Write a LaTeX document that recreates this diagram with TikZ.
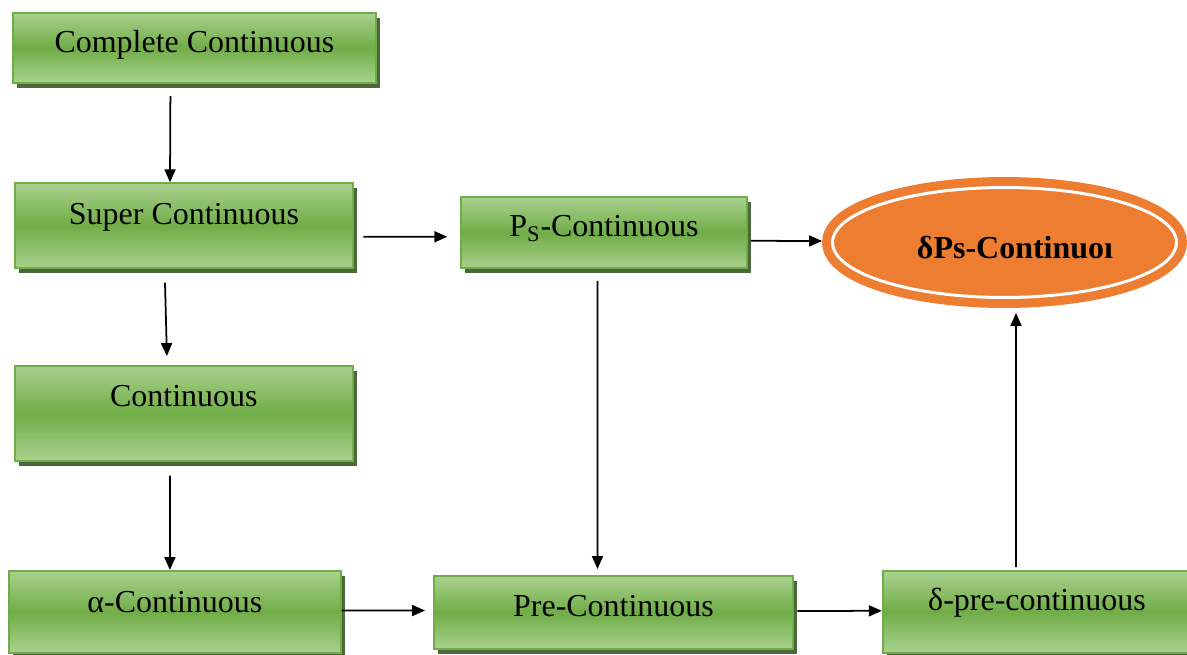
\documentclass[tikz,border=0pt]{standalone}
\usepackage{fontspec}
\setmainfont{Liberation Serif}
\usepackage{tikz}
\usetikzlibrary{arrows.meta,shadows,shapes.geometric}

\definecolor{boxlight}{RGB}{169,209,142}
\definecolor{boxmid}{RGB}{112,173,71}
\definecolor{boxline}{RGB}{112,173,71}
\definecolor{boxshadow}{RGB}{56,87,35}
\definecolor{goalfill}{RGB}{237,125,49}

\begin{document}
\begin{tikzpicture}[x=0.02cm, y=-0.02cm,
  box/.style={draw=boxline, line width=1.1pt, inner sep=0pt,
    top color=boxlight, bottom color=boxlight, middle color=boxmid,
    drop shadow={shadow xshift=0.08cm, shadow yshift=-0.1cm, fill=boxshadow, opacity=0.9},
    font=\fontsize{18.2pt}{22pt}\selectfont, text height=12.4pt},
  arr/.style={-{Triangle[length=0.26cm,width=0.22cm]}, line width=1pt}]
\useasboundingbox (0,0) rectangle (1187,655);
\clip (0,0) rectangle (1187,655);

% Left column
\node[box, minimum width=7.27cm, minimum height=1.40cm, text depth=7.5pt] (cc) at (194.4,47.7) {Complete Continuous};
\node[box, minimum width=6.76cm, minimum height=1.70cm, text depth=14.4pt] (super) at (184,225.8) {Super Continuous};
\node[box, minimum width=6.75cm, minimum height=1.89cm, text depth=20.7pt] (cont) at (183.9,413.3) {Continuous};
\node[box, minimum width=6.63cm, minimum height=1.64cm, text depth=11.3pt] (alpha) at (174.9,612) {α-Continuous};

% Middle column
\node[box, minimum width=5.73cm, minimum height=1.42cm, text depth=8pt] (ps) at (604,232.8) {P\textsubscript{S}-Continuous};
\node[box, minimum width=7.18cm, minimum height=1.46cm, text depth=7.6pt] (pre) at (613.5,612.5) {Pre-Continuous};

% Right column
\node[box, minimum width=6.17cm, minimum height=1.63cm, text depth=13.7pt] (dpre) at (1037,611.8) {δ-pre-continuous};
\node[ellipse, fill=goalfill, draw=goalfill, line width=5.1pt, double=white, double distance=1.7pt,
  minimum width=6.88cm, minimum height=2.2cm, inner sep=0pt, outer sep=0.21cm] (goal) at (1004.5,242.5) {};
\node[anchor=base, font=\fontsize{18.2pt}{22pt}\selectfont\bfseries, inner sep=0pt] (goaltext) at (1015,259) {δPs-Continuoı};

% Arrows (left column)
\draw[arr] ([xshift=-0.48cm,yshift=-0.25cm]cc.south) -- ([xshift=-0.28cm]super.north);
\draw[arr] ([xshift=-0.38cm,yshift=-0.27cm]super.south) -- ([xshift=-0.34cm,yshift=0.18cm]cont.north);
\draw[arr] ([xshift=-0.28cm,yshift=-0.28cm]cont.south) -- ([xshift=-0.1cm]alpha.north);

% Arrows (across)
\draw[arr] ([xshift=0.19cm,yshift=-0.22cm]super.east) -- ([xshift=-0.25cm,yshift=-0.08cm]ps.west);
\draw[arr] ([xshift=0.05cm,yshift=-0.16cm]ps.east) -- ([yshift=0.03cm]goal.west);
\draw[arr] ([xshift=-0.13cm,yshift=-0.23cm]ps.south) -- ([xshift=-0.32cm,yshift=0.12cm]pre.north);
\draw[arr] ([yshift=0.03cm]alpha.east) -- ([xshift=-0.16cm,yshift=0.04cm]pre.west);
\draw[arr] ([xshift=0.07cm,yshift=0.03cm]pre.east) -- ([yshift=0.02cm]dpre.west);
\draw[arr] ([xshift=-0.42cm,yshift=0.06cm]dpre.north) -- ([xshift=0.23cm,yshift=-0.1cm]goal.south);
\end{tikzpicture}
\end{document}
